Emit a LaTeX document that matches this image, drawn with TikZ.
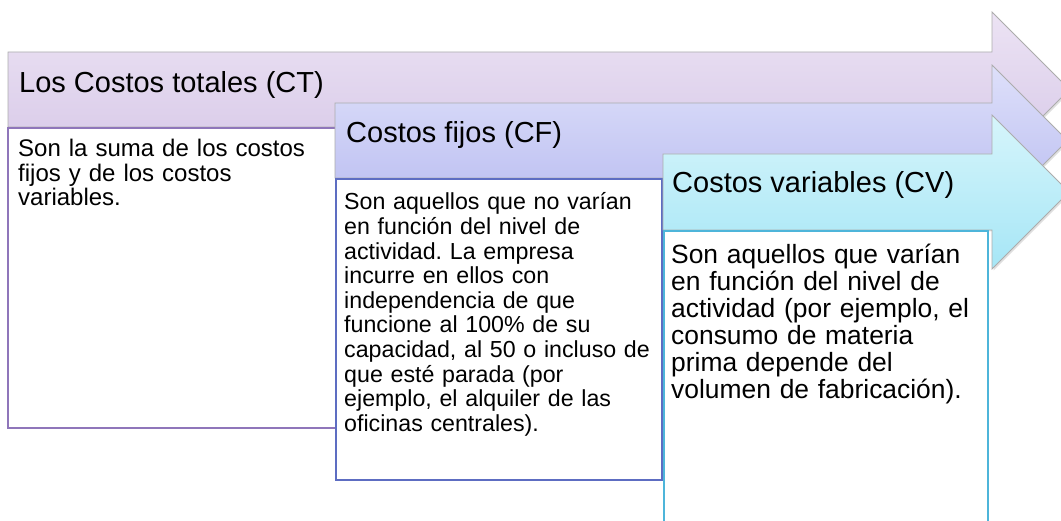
\documentclass[tikz,border=0pt]{standalone}
\usepackage{fontspec}
\setmainfont{Liberation Sans}
\frenchspacing
\usetikzlibrary{shadows}
\definecolor{ctTop}{HTML}{ECE3F4}
\definecolor{ctBot}{HTML}{D6C7E7}
\definecolor{cfTop}{HTML}{DEE0FA}
\definecolor{cfBot}{HTML}{B8BBF0}
\definecolor{cvTop}{HTML}{D6F5FB}
\definecolor{cvBot}{HTML}{A6E6F6}
\definecolor{ctLine}{HTML}{8F76BA}
\definecolor{cfLine}{HTML}{5D6DC2}
\definecolor{cvLine}{HTML}{4DB5DA}
\tikzset{
  costarrow/.style={draw=gray!65, line width=0.8pt,
    drop shadow={opacity=0.25, shadow xshift=1.5pt, shadow yshift=-1.5pt}},
  costbox/.style={fill=white, line width=1.2pt},
  costtitle/.style={anchor=base west, inner sep=0pt, font=\fontsize{29}{32}\selectfont},
  costtext/.style={anchor=base west, inner sep=0pt, align=left, text width=320pt}
}
\begin{document}
\begin{tikzpicture}[x=1pt, y=-1pt]
  \useasboundingbox (0,0) rectangle (1061,521);
  \clip (0,0) rectangle (1061,521);
  % costos totales
  \path[costarrow, top color=ctTop, bottom color=ctBot]
    (8,52) -- (992,52) -- (992,12) -- (1069.5,89.5) -- (992,167) -- (992,127) -- (8,127) -- cycle;
  \node[costtitle] (ct) at (19,93) {Los Costos totales (CT)};
  \draw[costbox, draw=ctLine] (8,128) rectangle (340,428);
  \node[costtext, font=\fontsize{24}{24.5}\selectfont] (ctdesc) at (18,156.7)
    {Son la suma de los costos\\ fijos y de los costos\\ variables.};
  % costos fijos
  \path[costarrow, top color=cfTop, bottom color=cfBot]
    (335,103) -- (992,103) -- (992,65) -- (1067.5,140.5) -- (992,216) -- (992,178) -- (335,178) -- cycle;
  \node[costtitle] (cf) at (346,143) {Costos fijos (CF)};
  \draw[costbox, draw=cfLine] (336,179) rectangle (662,480);
  \node[costtext, font=\fontsize{23.2}{24.6}\selectfont] (cfdesc) at (344,210)
    {Son aquellos que no varían\\ en función del nivel de\\ actividad. La empresa\\
     incurre en ellos con\\ independencia de que\\ funcione al 100\% de su\\
     capacidad, al 50 o incluso de\\ que esté parada (por\\ ejemplo, el alquiler de las\\
     oficinas centrales).};
  % costos variables
  \path[costarrow, top color=cvTop, bottom color=cvBot]
    (663,154) -- (992,154) -- (992,115) -- (1069,192) -- (992,269) -- (992,230) -- (663,230) -- cycle;
  \node[costtitle] (cv) at (672,193) {Costos variables (CV)};
  \draw[costbox, draw=cvLine] (664,231) rectangle (988,530);
  \node[costtext, font=\fontsize{26.4}{27}\selectfont] (cvdesc) at (671,264)
    {Son aquellos que varían\\ en función del nivel de\\ actividad (por ejemplo, el\\
     consumo de materia\\ prima depende del\\ volumen de fabricación).};
\end{tikzpicture}
\end{document}
